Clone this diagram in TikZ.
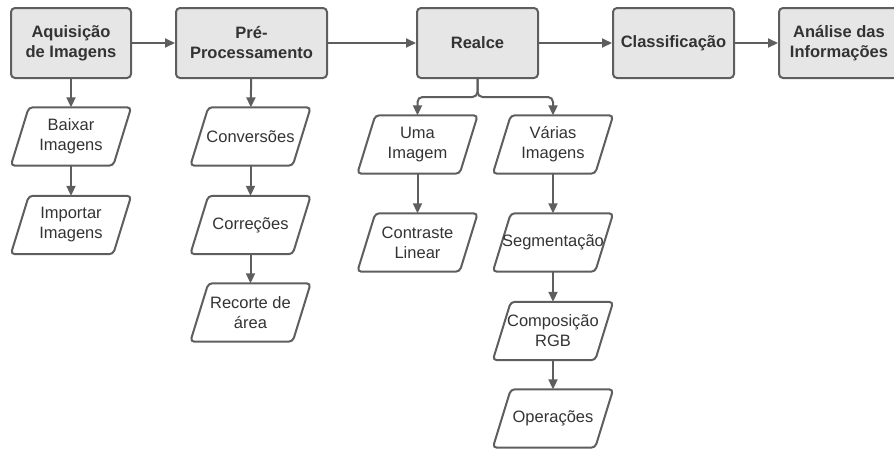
\documentclass[tikz,border=0pt]{standalone}
\usepackage{fontspec}
\setmainfont{Liberation Sans}
\usetikzlibrary{arrows.meta}
\definecolor{linegray}{HTML}{5E5E5E}
\definecolor{boxgray}{HTML}{E6E6E6}
\definecolor{textgray}{HTML}{333333}
\begin{document}
\begin{tikzpicture}[x=1pt,y=-1pt,text=textgray,
    stage/.style={draw=linegray,fill=boxgray,line width=2pt,rounded corners=4pt,
      minimum height=70pt,align=center,font=\fontsize{16.5}{20}\selectfont\bfseries},
    task/.style={minimum width=120pt,minimum height=58pt,inner sep=0pt,align=center,
      font=\fontsize{16.5}{20}\selectfont,
      append after command={\pgfextra{\draw[linegray,line width=2pt,rounded corners=4pt]
        ([xshift=18pt]\tikzlastnode.north west) -- (\tikzlastnode.north east)
        -- ([xshift=-18pt]\tikzlastnode.south east) -- (\tikzlastnode.south west) -- cycle;}}},
    arr/.style={draw=linegray,line width=2pt,-{Triangle[length=10pt,width=9pt]}}]
  \useasboundingbox (0,0) rectangle (894,448);
  % main stages
  \node[stage,minimum width=120pt] (acq) at (71,43) {Aquisição\\de Imagens};
  \node[stage,minimum width=151pt] (pre) at (251.5,43) {Pré-\\Processamento};
  \node[stage,minimum width=121pt] (realce) at (477.5,43) {Realce};
  \node[stage,minimum width=121pt] (class) at (673.5,43) {Classificação};
  \node[stage,minimum width=120pt] (anal) at (839,43) {Análise das\\Informações};
  \draw[arr] (acq) -- (pre);
  \draw[arr] (pre) -- (realce);
  \draw[arr] (realce) -- (class);
  \draw[arr] (class) -- (anal);
  % aquisicao
  \node[task] (baixar) at (71,136.5) {Baixar\\Imagens};
  \node[task] (import) at (71,225) {Importar\\Imagens};
  \draw[arr] (acq) -- (baixar);
  \draw[arr] (baixar) -- (import);
  % pre-processamento
  \node[task] (conv) at (250.5,136.5) {Conversões};
  \node[task] (corr) at (250.5,225) {Correções};
  \node[task] (recorte) at (250.5,312.5) {Recorte de\\área};
  \draw[arr] (pre) -- (conv);
  \draw[arr] (conv) -- (corr);
  \draw[arr] (corr) -- (recorte);
  % realce
  \node[task] (uma) at (417.5,144.5) {Uma\\Imagem};
  \node[task] (contr) at (417.5,242.5) {Contraste\\Linear};
  \node[task] (varias) at (553,144.5) {Várias\\Imagens};
  \node[task] (segm) at (553,242.5) {Segmentação};
  \node[task] (comp) at (553,331) {Composição\\RGB};
  \node[task] (oper) at (553,418.5) {Operações};
  \draw[arr,rounded corners=5pt] (realce.south) -- ++(0,18) -| (uma.north);
  \draw[arr,rounded corners=5pt] (realce.south) -- ++(0,18) -| (varias.north);
  \draw[arr] (uma) -- (contr);
  \draw[arr] (varias) -- (segm);
  \draw[arr] (segm) -- (comp);
  \draw[arr] (comp) -- (oper);
\end{tikzpicture}
\end{document}
